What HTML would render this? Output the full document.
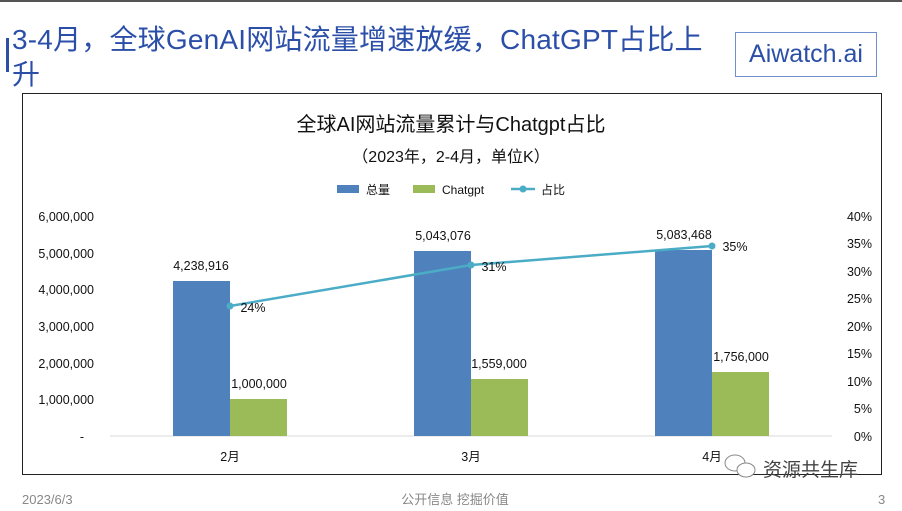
<!DOCTYPE html>
<html><head><meta charset="utf-8"><style>
body{margin:0;width:902px;height:511px;background:#fff;position:relative;overflow:hidden;font-family:"Liberation Sans","Noto Sans CJK SC",sans-serif;}
</style></head><body>
<div style="position:absolute;left:0;top:0;width:902px;height:2px;background:#555"></div>
<div style="position:absolute;left:6px;top:38px;width:3px;height:34px;background:#2b4fa8"></div>
<div style="position:absolute;left:12px;top:22px;width:712px;font-size:28px;line-height:35px;color:#2b4fa8;letter-spacing:0.2px;">3-4月，全球GenAI网站流量增速放缓，ChatGPT占比上升</div>
<div style="position:absolute;left:735px;top:32px;width:142px;height:45px;border:1px solid #6f8fcf;box-sizing:border-box;font-size:25px;line-height:43px;text-align:center;color:#2b4fa8;">Aiwatch.ai</div>
<svg style="position:absolute;left:0;top:0" width="902" height="511">
<rect x="22.5" y="93.5" width="859" height="381" fill="none" stroke="#222" stroke-width="1"/>
<g font-family="Liberation Sans, Noto Sans CJK SC, sans-serif" fill="#111">
<text x="451" y="131" font-size="20" text-anchor="middle">全球AI网站流量累计与Chatgpt占比</text>
<text x="451" y="162" font-size="16" text-anchor="middle">（2023年，2-4月，单位K）</text>
<rect x="337" y="185" width="22" height="8" fill="#4f81bd"/><text x="366" y="194" font-size="12">总量</text>
<rect x="413" y="185" width="22" height="8" fill="#9bbb59"/><text x="442" y="194" font-size="12">Chatgpt</text>
<line x1="511" y1="189" x2="535" y2="189" stroke="#4bacc6" stroke-width="2.5"/><circle cx="523" cy="189" r="3.5" fill="#4bacc6"/><text x="541" y="194" font-size="12">占比</text>
<g font-size="12.5" text-anchor="end">
<text x="94" y="221">6,000,000</text><text x="94" y="258">5,000,000</text><text x="94" y="294">4,000,000</text>
<text x="94" y="331">3,000,000</text><text x="94" y="368">2,000,000</text><text x="94" y="404">1,000,000</text><text x="84" y="441">-</text>
</g>
<g font-size="12.5" text-anchor="end">
<text x="872" y="221">40%</text><text x="872" y="248">35%</text><text x="872" y="276">30%</text><text x="872" y="303">25%</text>
<text x="872" y="331">20%</text><text x="872" y="358">15%</text><text x="872" y="386">10%</text><text x="872" y="413">5%</text><text x="872" y="441">0%</text>
</g>
<line x1="110" y1="436" x2="832" y2="436" stroke="#d9d9d9" stroke-width="1"/>
<rect x="173" y="281" width="57" height="155" fill="#4f81bd"/>
<rect x="230" y="399" width="57" height="37" fill="#9bbb59"/>
<rect x="414" y="251" width="57" height="185" fill="#4f81bd"/>
<rect x="471" y="379" width="57" height="57" fill="#9bbb59"/>
<rect x="655" y="250" width="57" height="186" fill="#4f81bd"/>
<rect x="712" y="372" width="57" height="64" fill="#9bbb59"/>
<polyline points="230,306 471,265 712,246" fill="none" stroke="#4bacc6" stroke-width="2.5"/>
<circle cx="230" cy="306" r="3.5" fill="#4bacc6"/><circle cx="471" cy="265" r="3.5" fill="#4bacc6"/><circle cx="712" cy="246" r="3.5" fill="#4bacc6"/>
<g font-size="12.5" text-anchor="middle">
<text x="201" y="270">4,238,916</text><text x="259" y="388">1,000,000</text>
<text x="443" y="240">5,043,076</text><text x="499" y="368">1,559,000</text>
<text x="684" y="239">5,083,468</text><text x="741" y="361">1,756,000</text>
<text x="253" y="312">24%</text><text x="494" y="271">31%</text><text x="735" y="251">35%</text>
<text x="230" y="461">2月</text><text x="471" y="461">3月</text><text x="712" y="461">4月</text>
</g>
</g>
<g fill="#fff" stroke="#888" stroke-width="1">
<ellipse cx="735" cy="463" rx="10" ry="8"/><ellipse cx="746" cy="470" rx="9" ry="7"/>
</g>
<text x="763" y="476" font-size="19" fill="#444" font-family="Liberation Sans, Noto Sans CJK SC, sans-serif">资源共生库</text>
<g font-family="Liberation Sans, Noto Sans CJK SC, sans-serif" font-size="13" fill="#888">
<text x="22" y="504">2023/6/3</text>
<text x="455" y="504" text-anchor="middle">公开信息 挖掘价值</text>
<text x="878" y="504">3</text>
</g>
</svg>
</body></html>
